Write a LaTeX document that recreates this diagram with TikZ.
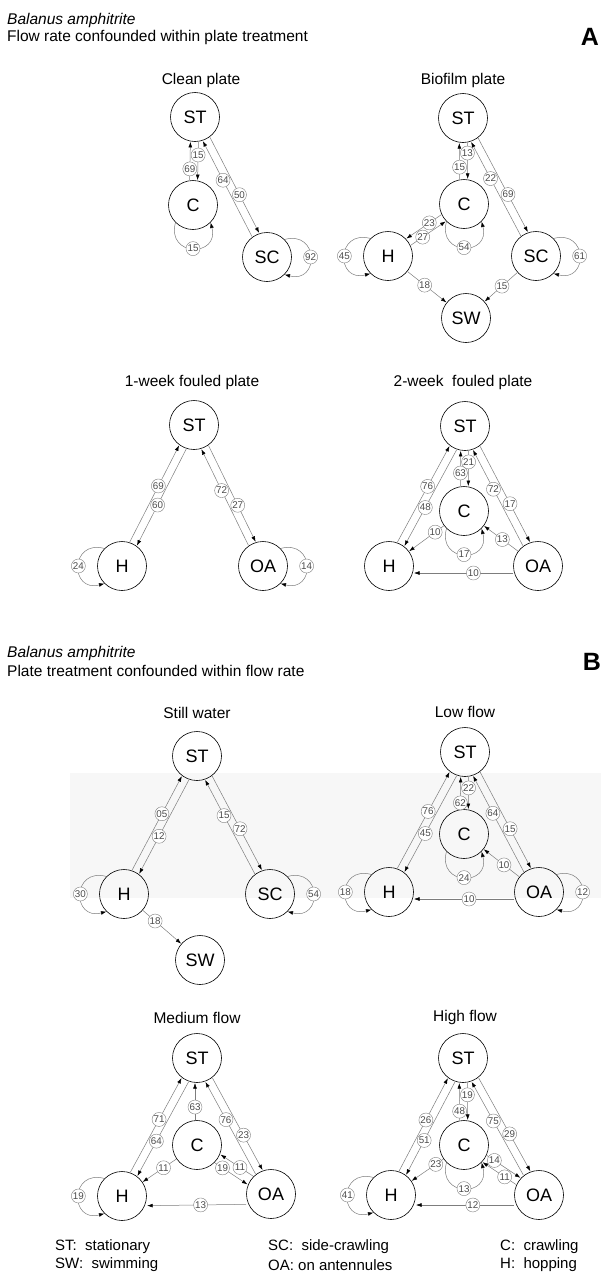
\documentclass[tikz,border=0pt]{standalone}
\usepackage{fontspec}
\setmainfont{Liberation Sans}
\usetikzlibrary{calc, arrows.meta, positioning}
\definecolor{edgeGray}{RGB}{125,125,125}
\definecolor{rateGray}{RGB}{75,75,75}

% transition between two states: [offset]{from}{to}{rate}{pos}
\newcommand{\flux}[5][4]{%
  \draw[flow] ($(#2)!25pt!(#3)!#1pt!90:(#3)$) -- ($(#3)!25pt!(#2)!#1pt!-90:(#2)$)
    node[rate, pos=#5] {#4};}
% state that stays in place: {node}{start angle}{end angle}{rate}
\newcommand{\selfloop}[4]{%
  \draw[flow] (#1.#2) .. controls +({(2*#2+#3)/3}:36pt) and +({(#2+2*#3)/3}:36pt) .. (#1.#3)
    node[rate, pos=0.5] {#4};}

\tikzset{
  state/.style={circle, draw, line width=0.6pt, minimum size=49pt, inner sep=0pt,
    font=\fontsize{18}{20}\selectfont},
  rate/.style={circle, draw=edgeGray, fill=white, line width=0.4pt, inner sep=0pt,
    minimum size=14pt, text=rateGray, font=\fontsize{9.8}{10}\selectfont},
  flow/.style={draw=edgeGray, line width=0.5pt,
    -{Latex[length=5.5pt, width=3.8pt, color=black]}},
  paneltitle/.style={font=\fontsize{15.5}{17}\selectfont},
  heading/.style={anchor=west, inner sep=0pt, font=\fontsize{15.5}{17}\selectfont},
  legend/.style={anchor=west, inner sep=0pt, font=\fontsize{15}{17}\selectfont}
}

\begin{document}
\begin{tikzpicture}[x=1pt, y=1pt]
  \useasboundingbox (0,0) rectangle (601,-1282);
  \fill[black!3] (70,-773) rectangle (601,-898);

  % headings
  \node[heading] (headA1) at (7,-20) {\itshape Balanus amphitrite};
  \node[heading] (headA2) at (7,-37) {Flow rate confounded within plate treatment};
  \node[font=\fontsize{25}{25}\selectfont\bfseries, anchor=east, inner sep=0pt] (letA) at (599,-37) {A};
  \node[heading] (headB1) at (7,-653) {\itshape Balanus amphitrite};
  \node[heading] (headB2) at (7,-671) {Plate treatment confounded within flow rate};
  \node[font=\fontsize{25}{25}\selectfont\bfseries, anchor=east, inner sep=0pt] (letB) at (601,-662) {B};

  % Clean plate
  \node[paneltitle] (ta1) at (201,-80) {Clean plate};
  \node[state] (a1st) at (195,-117) {ST};
  \node[state] (a1c) at (193,-205) {C};
  \node[state] (a1sc) at (267,-257) {SC};
  \flux{a1c}{a1st}{69}{0.29}
  \flux{a1st}{a1c}{15}{0.34}
  \flux{a1st}{a1sc}{50}{0.6}
  \flux{a1sc}{a1st}{64}{0.59}
  \selfloop{a1c}{225}{315}{15}
  \selfloop{a1sc}{45}{-45}{92}

  % Biofilm plate
  \node[paneltitle] (ta2) at (463,-80) {Biofilm plate};
  \node[state] (a2st) at (463,-118) {ST};
  \node[state] (a2c) at (464,-204) {C};
  \node[state] (a2h) at (388,-256) {H};
  \node[state] (a2sc) at (536,-256) {SC};
  \node[state] (a2sw) at (466,-318) {SW};
  \flux{a2c}{a2st}{15}{0.33}
  \flux{a2st}{a2c}{13}{0.28}
  \flux{a2st}{a2sc}{69}{0.6}
  \flux{a2sc}{a2st}{22}{0.61}
  \flux[-4]{a2c}{a2h}{23}{0.34}
  \flux[-4]{a2h}{a2c}{27}{0.34}
  \flux[0]{a2h}{a2sw}{18}{0.44}
  \flux[0]{a2sc}{a2sw}{15}{0.47}
  \selfloop{a2c}{225}{315}{54}
  \selfloop{a2h}{135}{225}{45}
  \selfloop{a2sc}{45}{-45}{61}

  % 1-week fouled plate
  \node[paneltitle] (ta3) at (192,-382) {1-week fouled plate};
  \node[state] (a3st) at (194,-425) {ST};
  \node[state] (a3h) at (122,-566) {H};
  \node[state] (a3oa) at (263,-566) {OA};
  \flux{a3h}{a3st}{69}{0.58}
  \flux{a3st}{a3h}{60}{0.58}
  \flux{a3st}{a3oa}{27}{0.62}
  \flux{a3oa}{a3st}{72}{0.57}
  \selfloop{a3h}{135}{225}{24}
  \selfloop{a3oa}{45}{-45}{14}

  % 2-week fouled plate
  \node[paneltitle] (ta4) at (463,-382) {2-week\ \ fouled plate};
  \node[state] (a4st) at (465,-426) {ST};
  \node[state] (a4c) at (464,-511) {C};
  \node[state] (a4h) at (389,-566) {H};
  \node[state] (a4oa) at (538,-566) {OA};
  \flux{a4c}{a4st}{63}{0.37}
  \flux{a4st}{a4c}{21}{0.31}
  \flux{a4h}{a4st}{76}{0.58}
  \flux{a4st}{a4h}{48}{0.6}
  \flux{a4st}{a4oa}{17}{0.6}
  \flux{a4oa}{a4st}{72}{0.59}
  \flux[0]{a4c}{a4h}{10}{0.25}
  \flux[0]{a4oa}{a4c}{13}{0.46}
  \flux[7]{a4oa}{a4h}{10}{0.4}
  \selfloop{a4c}{225}{315}{17}

  % Still water
  \node[paneltitle] (tb1) at (197,-713) {Still water};
  \node[state] (b1st) at (197,-756) {ST};
  \node[state] (b1h) at (124,-894) {H};
  \node[state] (b1sc) at (270,-894) {SC};
  \node[state] (b1sw) at (200,-960) {SW};
  \flux{b1h}{b1st}{05}{0.6}
  \flux{b1st}{b1h}{12}{0.6}
  \flux{b1st}{b1sc}{72}{0.56}
  \flux{b1sc}{b1st}{15}{0.62}
  \flux[0]{b1h}{b1sw}{18}{0.32}
  \selfloop{b1h}{135}{225}{30}
  \selfloop{b1sc}{45}{-45}{54}

  % Low flow
  \node[paneltitle] (tb2) at (465,-712) {Low flow};
  \node[state] (b2st) at (465,-752) {ST};
  \node[state] (b2c) at (464,-834) {C};
  \node[state] (b2h) at (389,-892) {H};
  \node[state] (b2oa) at (539,-892) {OA};
  \flux{b2c}{b2st}{62}{0.19}
  \flux{b2st}{b2c}{22}{0.34}
  \flux{b2h}{b2st}{76}{0.59}
  \flux{b2st}{b2h}{45}{0.6}
  \flux{b2st}{b2oa}{15}{0.59}
  \flux{b2oa}{b2st}{64}{0.61}
  \flux[0]{b2oa}{b2c}{10}{0.43}
  \flux[7]{b2oa}{b2h}{10}{0.45}
  \selfloop{b2h}{135}{225}{18}
  \selfloop{b2c}{225}{315}{24}
  \selfloop{b2oa}{45}{-45}{12}

  % Medium flow
  \node[paneltitle] (tb3) at (197,-1018) {Medium flow};
  \node[state] (b3st) at (197,-1058) {ST};
  \node[state] (b3c) at (197,-1145) {C};
  \node[state] (b3h) at (122,-1196) {H};
  \node[state] (b3oa) at (271,-1194) {OA};
  \flux[2]{b3c}{b3st}{63}{0.35}
  \flux{b3h}{b3st}{71}{0.56}
  \flux{b3st}{b3h}{64}{0.63}
  \flux{b3st}{b3oa}{23}{0.62}
  \flux{b3oa}{b3st}{76}{0.59}
  \flux[0]{b3c}{b3h}{11}{0.38}
  \flux[-5]{b3c}{b3oa}{19}{0.23}
  \flux[-5]{b3oa}{b3c}{11}{0.4}
  \flux[10]{b3oa}{b3h}{13}{0.46}
  \selfloop{b3h}{135}{225}{19}

  % High flow
  \node[paneltitle] (tb4) at (465,-1017) {High flow};
  \node[state] (b4st) at (463,-1058) {ST};
  \node[state] (b4c) at (464,-1145) {C};
  \node[state] (b4h) at (391,-1195) {H};
  \node[state] (b4oa) at (539,-1195) {OA};
  \flux{b4c}{b4st}{48}{0.24}
  \flux{b4st}{b4c}{19}{0.32}
  \flux{b4h}{b4st}{26}{0.55}
  \flux{b4st}{b4h}{51}{0.63}
  \flux{b4st}{b4oa}{29}{0.6}
  \flux{b4oa}{b4st}{75}{0.58}
  \flux[0]{b4c}{b4h}{23}{0.24}
  \flux{b4c}{b4oa}{14}{0.22}
  \flux{b4oa}{b4c}{11}{0.34}
  \flux[10]{b4oa}{b4h}{12}{0.42}
  \selfloop{b4h}{135}{225}{41}
  \selfloop{b4c}{225}{315}{13}

  % key
  \node[legend] (keyST) at (55,-1247) {ST:\ \ stationary};
  \node[legend] (keySW) at (55,-1265) {SW:\ \ swimming};
  \node[legend] (keySC) at (268,-1247) {SC:\ \ side-crawling};
  \node[legend] (keyOA) at (268,-1265) {OA:\ on antennules};
  \node[legend] (keyC) at (500,-1247) {C:\ \ crawling};
  \node[legend] (keyH) at (500,-1265) {H:\ \ hopping};
\end{tikzpicture}
\end{document}
